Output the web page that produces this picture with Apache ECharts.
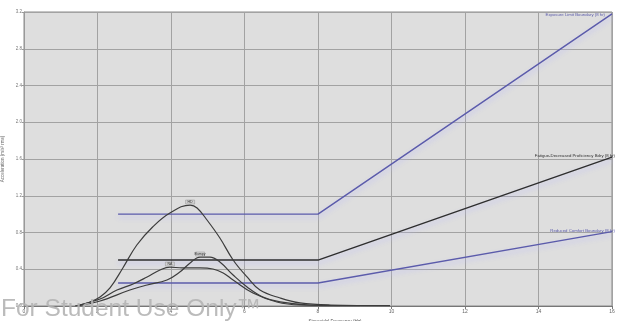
<!DOCTYPE html>
<html>
<head>
<meta charset="utf-8">
<script src="https://cdn.jsdelivr.net/npm/echarts@6/dist/echarts.min.js"></script>
<style>html,body{margin:0;padding:0;background:#fff}#c{width:618px;height:321px}</style>
</head>
<body>
<div id="c"></div>
<script>
// Boundary lines (frequency, acceleration)
const boundaryX = [2.56, 8, 16];
const exposureLimit = [1.0, 1.0, 3.18];
const fatigueBoundary = [0.5, 0.5, 1.62];
const comfortBoundary = [0.25, 0.25, 0.81];
const boundaryNames = ['Exposure Limit Boundary (8 hr)', 'Fatigue-Decreased Proficiency Bdry (8 hr)', 'Reduced Comfort Boundary (8 hr)'];

// Response curves
const curveNames = ['HD', 'NA', 'Bumpy'];
const curveHDx = [1.52, 1.80, 2.07, 2.34, 2.69, 3.07, 3.50, 3.97, 4.52, 4.71, 4.98, 5.33, 5.69, 6.07, 6.42, 6.97, 7.51, 8.33, 9.96];
const curveHDy = [0.011, 0.044, 0.098, 0.196, 0.414, 0.664, 0.860, 1.012, 1.099, 1.067, 0.936, 0.740, 0.501, 0.316, 0.174, 0.087, 0.033, 0.011, 0.005];
const curveNAx = [1.39, 2.07, 2.53, 2.97, 3.35, 3.70, 3.97, 4.30, 4.79, 5.14, 5.42, 5.69, 6.23, 6.88, 7.51, 8.60];
const curveNAy = [0.0, 0.076, 0.174, 0.240, 0.316, 0.392, 0.424, 0.414, 0.414, 0.403, 0.359, 0.283, 0.141, 0.044, 0.011, 0.005];
const curveBumpyX = [1.47, 2.07, 2.88, 3.35, 3.89, 4.24, 4.52, 4.79, 5.06, 5.33, 5.69, 6.07, 6.50, 6.97, 7.78, 9.14];
const curveBumpyY = [0.0, 0.054, 0.174, 0.229, 0.283, 0.370, 0.468, 0.533, 0.533, 0.479, 0.337, 0.207, 0.098, 0.044, 0.011, 0.005];

const xTicks = {min: 0, max: 16, interval: 2};
const yTicks = {min: 0, max: 3.2, interval: 0.4};

const zip = (xs, ys) => xs.map((x, i) => [x, ys[i]]);

const blue = '#5b5bab';
const dark = '#2e2e2e';

function boundary(name, ys, color, labelOffset) {
  return {
    type: 'line', name: name, data: zip(boundaryX, ys), symbol: 'none',
    lineStyle: {color: color, width: 1.4, shadowColor: 'rgba(190,190,250,0.9)', shadowBlur: 5, shadowOffsetY: 3},
    endLabel: {show: true, formatter: name, fontSize: 4.3, color: color, align: 'right',
      verticalAlign: 'bottom', offset: labelOffset, fontFamily: 'Liberation Sans'},
    z: 3
  };
}
function curve(name, xs, ys) {
  return {
    type: 'line', name: name, data: zip(xs, ys), symbol: 'none', smooth: 0.4,
    lineStyle: {color: '#3c3c3c', width: 1.2},
    markPoint: {symbol: 'rect', symbolSize: [9, 4], symbolOffset: [0, -3],
      itemStyle: {color: 'rgba(210,210,210,0.9)', borderColor: '#888', borderWidth: 0.4},
      label: {show: true, formatter: name, fontSize: 3.5, color: '#333'},
      data: [{type: 'max'}]},
    z: 4
  };
}

const chart = echarts.init(document.getElementById('c'));
chart.setOption({
  animation: false,
  backgroundColor: '#ffffff',
  grid: {left: 24, right: 6, top: 12, bottom: 15, containLabel: false, outerBoundsMode: 'none',
    show: true, backgroundColor: '#dedede', borderColor: '#8a8a8a', borderWidth: 1},
  xAxis: {
    type: 'value', min: xTicks.min, max: xTicks.max, interval: xTicks.interval,
    name: 'Sinusoidal Frequency (Hz)', nameLocation: 'middle', nameGap: 6,
    nameTextStyle: {fontSize: 4.5, color: '#555', padding: [0, 0, 0, 34], fontFamily: 'Liberation Sans'},
    axisLine: {lineStyle: {color: '#777', width: 1}},
    axisTick: {show: true, length: 3, lineStyle: {color: '#777'}},
    axisLabel: {fontSize: 5, color: '#666', margin: 3, fontFamily: 'Liberation Sans'},
    splitLine: {show: true, lineStyle: {color: '#a2a2a2', width: 1}}
  },
  yAxis: {
    type: 'value', min: yTicks.min, max: yTicks.max, interval: yTicks.interval,
    name: 'Acceleration (m/s² rms)', nameLocation: 'middle', nameGap: 13,
    nameTextStyle: {fontSize: 4.5, color: '#666', fontFamily: 'Liberation Sans'},
    axisLine: {show: true, lineStyle: {color: '#999'}},
    axisTick: {show: true, length: 2, lineStyle: {color: '#999'}},
    axisLabel: {fontSize: 4.5, color: '#777', margin: 2, fontFamily: 'Liberation Sans', formatter: v => v.toFixed(1)},
    splitLine: {show: true, lineStyle: {color: '#a2a2a2', width: 1}}
  },
  series: [
    boundary(boundaryNames[0], exposureLimit, blue, [-15, 3]),
    boundary(boundaryNames[1], fatigueBoundary, dark, [-5, 1]),
    boundary(boundaryNames[2], comfortBoundary, blue, [-5, 1]),
    curve(curveNames[0], curveHDx, curveHDy),
    curve(curveNames[1], curveNAx, curveNAy),
    curve(curveNames[2], curveBumpyX, curveBumpyY)
  ],
  graphic: [{
    type: 'text', left: 1, top: 297, z: 100, silent: true,
    style: {text: 'For Student Use Only™', fontSize: 24.5, fontFamily: 'Liberation Sans', fill: 'rgba(180,180,180,0.9)'}
  }]
});
</script>
</body>
</html>
